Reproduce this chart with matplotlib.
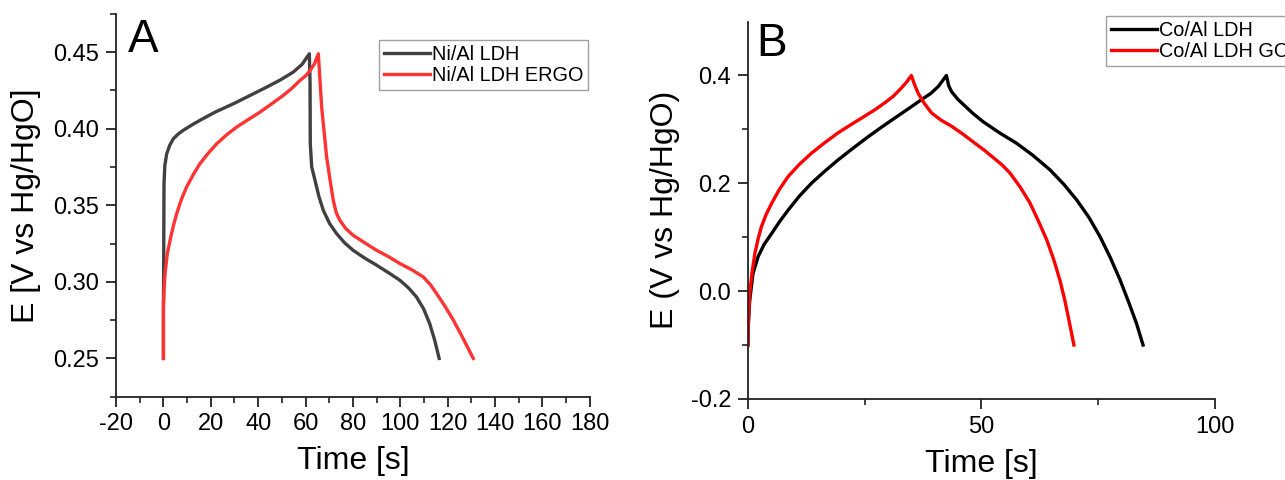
import numpy as np
import matplotlib.pyplot as plt

plt.rcParams['font.family'] = ['Liberation Sans', 'DejaVu Sans']
plt.rcParams['axes.unicode_minus'] = False

# Panel A: Ni/Al LDH charge-discharge
t_ni = [0, 0, 0.1, 0.25, 0.6, 1.4, 2.6, 4.2, 6.2, 8.4, 11.5, 15.4, 22, 29.5, 36.5,
        43.6, 49.5, 54.8, 58.5, 61.6, 61.9, 62.0, 62.6, 64, 65.6, 67.5, 70.2, 73.1,
        76.5, 80.1, 85, 90, 95, 99.8, 103.5, 106.8, 109.8, 112.4, 114.5, 116.4]
e_ni = [0.25, 0.28, 0.306, 0.364, 0.376, 0.3837, 0.389, 0.3935, 0.3965, 0.399,
        0.402, 0.4055, 0.411, 0.4163, 0.4217, 0.4272, 0.432, 0.437, 0.442, 0.449,
        0.43, 0.3902, 0.375, 0.3663, 0.356, 0.3467, 0.338, 0.3315, 0.3255, 0.3206,
        0.3155, 0.3109, 0.306, 0.3011, 0.296, 0.2902, 0.2825, 0.2728, 0.262, 0.25]

t_ergo = [0, 0, 0.3, 0.7, 1.6, 2.8, 4.1, 5.6, 7.5, 9.8, 12.5, 15.4, 18.8, 22.5,
          26.5, 30.9, 35.8, 40.8, 45.7, 50.6, 54.3, 57.6, 60, 61.9, 63.8, 65.4,
          66.8, 68.9, 70.4, 71.7, 73, 74.5, 77, 80.1, 85, 90, 95, 99.8, 105,
          109.7, 112.7, 115.3, 118.8, 122.4, 126.6, 130.8]
e_ergo = [0.25, 0.2837, 0.295, 0.3054, 0.318, 0.3272, 0.336, 0.3446, 0.3535,
          0.362, 0.3698, 0.3772, 0.3838, 0.3902, 0.3958, 0.4011, 0.406, 0.4109,
          0.4163, 0.4218, 0.4265, 0.4315, 0.4345, 0.438, 0.4425, 0.449, 0.4141,
          0.3815, 0.366, 0.3533, 0.345, 0.3402, 0.3348, 0.3304, 0.3255, 0.3206,
          0.3165, 0.312, 0.3078, 0.3032, 0.2982, 0.2924, 0.2842, 0.275, 0.2628,
          0.25]

# Panel B: Co/Al LDH charge-discharge
t_co = [0, 0.1, 0.4, 1.1, 2.2, 3.5, 5.1, 6.8, 8.6, 11, 13.6, 16.4, 19.3, 22.5,
        25.8, 28.6, 31.5, 34.4, 37.2, 39.2, 40.8, 42.5, 43.0, 43.6, 45.0, 46.1,
        48.2, 50.4, 53.9, 57.5, 61, 64.7, 67.6, 70.4, 73, 75.4, 77.6, 79.7,
        81.5, 83.2, 84.6]
e_co = [-0.1, -0.06, -0.017, 0.033, 0.064, 0.087, 0.107, 0.129, 0.15, 0.176, 0.2,
        0.222, 0.2433, 0.265, 0.2867, 0.304, 0.3214, 0.3385, 0.3554, 0.367, 0.38,
        0.4, 0.381, 0.37, 0.3554, 0.3465, 0.3295, 0.314, 0.2935, 0.2744, 0.252,
        0.2248, 0.1985, 0.1691, 0.137, 0.1009, 0.062, 0.0204, -0.02, -0.06, -0.1]

t_go = [0, 0.15, 0.4, 0.9, 1.5, 2.2, 2.9, 3.9, 5.1, 6.7, 8.6, 11, 13.6, 16.4, 19.3,
        22.1, 25, 27.3, 29.3, 31.2, 32.9, 34, 35, 35.6, 36.4, 37.8, 39.3, 41.3,
        43.6, 46, 48.6, 50.6, 52.7, 54.5, 56.1, 58.3, 60.4, 62.2, 64, 65.5, 66.8,
        67.8, 68.6, 69.8]
e_go = [-0.1, -0.05, -0.004, 0.035, 0.07, 0.097, 0.1195, 0.142, 0.163, 0.188,
        0.2123, 0.235, 0.2557, 0.275, 0.2935, 0.309, 0.3245, 0.337, 0.3493, 0.362,
        0.3771, 0.388, 0.4, 0.385, 0.3679, 0.348, 0.3307, 0.3175, 0.3059, 0.2915,
        0.2744, 0.2615, 0.2465, 0.2335, 0.2191, 0.193, 0.1634, 0.13, 0.0947, 0.058,
        0.0204, -0.015, -0.048, -0.1]

fig = plt.figure(figsize=(12.85, 4.8), dpi=100)
axA = fig.add_axes([0.0903, 0.1735, 0.3687, 0.7975])
axB = fig.add_axes([0.582, 0.169, 0.3635, 0.786])

axA.plot(t_ni, e_ni, color='#404040', lw=2.4, label='Ni/Al LDH')
axA.plot(t_ergo, e_ergo, color='#ff3333', lw=2.4, label='Ni/Al LDH ERGO')
axB.plot(t_co, e_co, color='black', lw=2.4, label='Co/Al LDH')
axB.plot(t_go, e_go, color='red', lw=2.4, label='Co/Al LDH GO')

axA.set_xlim(-20, 180)
axA.set_ylim(0.225, 0.475)
axA.set_xticks(np.arange(-20, 181, 20))
axA.set_xticks(np.arange(-10, 180, 10), minor=True)
axA.set_yticks([0.25, 0.30, 0.35, 0.40, 0.45])
axA.set_yticks(np.arange(0.225, 0.476, 0.025), minor=True)
axA.set_yticklabels(['0.25', '0.30', '0.35', '0.40', '0.45'])

axB.set_xlim(0, 100)
axB.set_ylim(-0.2, 0.5)
axB.set_xticks([0, 50, 100])
axB.set_xticks([25, 75], minor=True)
axB.set_yticks([-0.2, 0.0, 0.2, 0.4])
axB.set_yticks([-0.1, 0.1, 0.3], minor=True)
axB.set_yticklabels(['-0.2', '0.0', '0.2', '0.4'])

for ax in (axA, axB):
    ax.spines['top'].set_visible(False)
    ax.spines['right'].set_visible(False)
    for s in ('left', 'bottom'):
        ax.spines[s].set_linewidth(1.3)
        ax.spines[s].set_color('#222222')
    ax.tick_params(which='major', direction='out', length=7, width=1.3,
                   labelsize=17, pad=5, colors='#222222', labelcolor='black')
    ax.tick_params(which='minor', direction='out', length=4, width=1.2,
                   colors='#222222')
    ax.set_xlabel('Time [s]', fontsize=23, labelpad=8)

axA.set_ylabel('E [V vs Hg/HgO]', fontsize=23, labelpad=9)
axB.set_ylabel('E (V vs Hg/HgO)', fontsize=23, labelpad=8)

axA.text(0.025, 0.99, 'A', transform=axA.transAxes, fontsize=33,
         va='top', ha='left')
axB.text(0.018, 1.0, 'B', transform=axB.transAxes, fontsize=33,
         va='top', ha='left')

for ax, anchor in ((axA, (379 / 1285, 1 - 40 / 480)), (axB, (1106 / 1285, 1 - 16 / 480))):
    leg = ax.legend(loc='upper left', bbox_to_anchor=anchor,
                    bbox_transform=fig.transFigure, fontsize=14.3,
                    frameon=True, fancybox=False, handlelength=2.3,
                    handletextpad=0.1, labelspacing=0.1, borderpad=0.25,
                    borderaxespad=0)
    leg.get_frame().set_edgecolor('#888888')
    leg.get_frame().set_linewidth(1.0)

fig.savefig('out.png', dpi=100)
